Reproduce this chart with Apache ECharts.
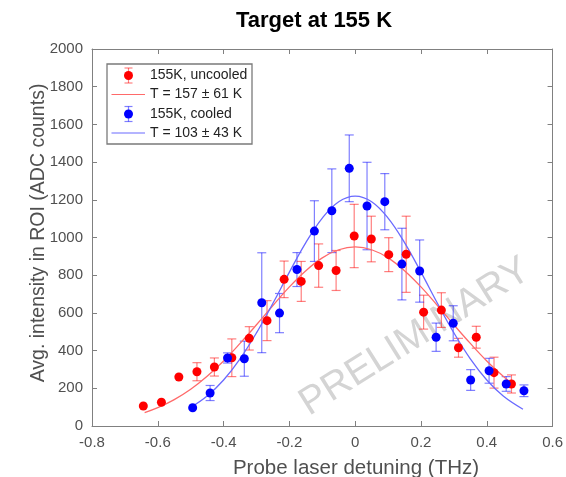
<!DOCTYPE html>
<html>
<head>
<meta charset="utf-8">
<script src="https://cdn.jsdelivr.net/npm/echarts@6/dist/echarts.min.js"></script>
<style>
html,body{margin:0;padding:0;background:#fff;}
#chart{width:566px;height:477px;}
</style>
</head>
<body>
<div id="chart"></div>
<script>
// ---- data ----
var titleText = 'Target at 155 K';
var xAxisName = 'Probe laser detuning (THz)';
var yAxisName = 'Avg. intensity in ROI (ADC counts)';
var watermark = 'PRELIMINARY';
var legendNames = ['155K, uncooled', 'T = 157 \u00b1 61 K', '155K, cooled', 'T = 103 \u00b1 43 K'];

var redX   = [-0.644,-0.589,-0.536,-0.481,-0.428,-0.375,-0.322,-0.268,-0.216,-0.164,-0.111,-0.058,-0.003,0.049,0.102,0.155,0.208,0.262,0.314,0.368,0.422,0.475];
var redY   = [106,126,260,288,313,362,465,559,778,767,851,825,1008,992,909,911,604,615,415,471,283,223];
var redErr = [0,0,0,48,48,100,62,106,97,106,115,106,168,121,90,202,90,92,50,58,82,48];

var blueX   = [-0.494,-0.441,-0.388,-0.337,-0.284,-0.230,-0.177,-0.124,-0.071,-0.018,0.036,0.090,0.142,0.196,0.246,0.298,0.351,0.407,0.459,0.513];
var blueY   = [97,175,361,357,654,599,830,1034,1142,1367,1167,1190,859,822,471,545,244,293,223,187];
var blueErr = [0,40,27,93,265,104,90,161,222,177,232,149,190,165,75,93,55,66,39,31];

var redFitX = [-0.64,-0.60,-0.55,-0.50,-0.45,-0.40,-0.35,-0.30,-0.25,-0.20,-0.15,-0.10,-0.05,0,0.05,0.10,0.15,0.20,0.25,0.30,0.35,0.40,0.45,0.48];
var redFitY = [71,97,140,195,264,345,438,537,639,738,824,892,935,950,935,892,824,738,639,537,438,345,264,221];

var blueFitX = [-0.50,-0.45,-0.40,-0.35,-0.30,-0.25,-0.20,-0.15,-0.10,-0.05,0,0.05,0.10,0.15,0.20,0.25,0.30,0.35,0.40,0.45,0.51];
var blueFitY = [99,159,244,356,494,651,816,973,1103,1190,1220,1190,1103,973,816,651,494,356,244,159,89];

var xMin = -0.8, xMax = 0.6, xStep = 0.2;
var yMin = 0, yMax = 2000, yStep = 200;

// ---- styles ----
var RED = '#ff0000', BLUE = '#0000ff';
var RED_ERR = 'rgba(255,0,0,0.5)', BLUE_ERR = 'rgba(0,0,255,0.5)';
var RED_FIT = '#ff6a6a', BLUE_FIT = '#6a6aff';
var AXIS_C = '#808080', LABEL_C = '#505050';
var FONT = 'Liberation Sans, Arial, Helvetica, sans-serif';

function zip2(a, b) { return a.map(function (v, i) { return [v, b[i]]; }); }
function errData(xs, ys, es) { return xs.map(function (v, i) { return [v, ys[i] - es[i], ys[i] + es[i]]; }); }
function plainNum(v) { return String(Math.round(v * 1000) / 1000); }

function errRenderer(color) {
  return function (params, api) {
    var x = api.value(0), lo = api.value(1), hi = api.value(2);
    if (hi - lo <= 0) return null;
    var p1 = api.coord([x, hi]), p2 = api.coord([x, lo]);
    var hw = 4.5, st = { stroke: color, lineWidth: 1.2 };
    return { type: 'group', children: [
      { type: 'line', shape: { x1: p1[0], y1: p1[1], x2: p2[0], y2: p2[1] }, style: st },
      { type: 'line', shape: { x1: p1[0] - hw, y1: p1[1], x2: p1[0] + hw, y2: p1[1] }, style: st },
      { type: 'line', shape: { x1: p2[0] - hw, y1: p2[1], x2: p2[0] + hw, y2: p2[1] }, style: st }
    ]};
  };
}

function axisCommon(showLabel) {
  return {
    axisLine: { show: true, onZero: false, lineStyle: { color: AXIS_C, width: 1 } },
    axisTick: { show: true, inside: true, length: 5, lineStyle: { color: AXIS_C } },
    axisLabel: { show: showLabel, color: LABEL_C, fontSize: 15, fontFamily: FONT, margin: 9, formatter: plainNum },
    splitLine: { show: false }
  };
}

var chart = echarts.init(document.getElementById('chart'));

// legend drawn as graphic (matlab-style box)
var LX = 107, LY = 64, LW = 145, LH = 80;
var rowY = [75.5, 94.5, 114, 133];
function legendMarker(cy, color, errColor) {
  var cx = 128.5, hw = 4, top = cy - 7.5, bot = cy + 7.5;
  var st = { stroke: errColor, lineWidth: 1.2 };
  return [
    { type: 'line', shape: { x1: cx, y1: top, x2: cx, y2: bot }, style: st },
    { type: 'line', shape: { x1: cx - hw, y1: top, x2: cx + hw, y2: top }, style: st },
    { type: 'line', shape: { x1: cx - hw, y1: bot, x2: cx + hw, y2: bot }, style: st },
    { type: 'circle', shape: { cx: cx, cy: cy, r: 4.5 }, style: { fill: color } }
  ];
}
function legendLine(cy, color) {
  return [{ type: 'line', shape: { x1: 111.5, y1: cy, x2: 145, y2: cy }, style: { stroke: color, lineWidth: 1.2 } }];
}
function legendText(cy, txt) {
  return { type: 'text', x: 150, y: cy, style: { text: txt, fill: '#222', font: '14px ' + FONT, textAlign: 'left', textVerticalAlign: 'middle' } };
}
var legendChildren = [
  { type: 'rect', shape: { x: LX, y: LY, width: LW, height: LH }, style: { fill: '#fff', stroke: '#7a7a7a', lineWidth: 1.3 } }
].concat(legendMarker(rowY[0], RED, RED_ERR), legendLine(rowY[1], RED_FIT),
         legendMarker(rowY[2], BLUE, BLUE_ERR), legendLine(rowY[3], BLUE_FIT),
         [legendText(rowY[0], legendNames[0]), legendText(rowY[1], legendNames[1]),
          legendText(rowY[2], legendNames[2]), legendText(rowY[3], legendNames[3])]);

var option = {
  animation: false,
  backgroundColor: '#fff',
  title: {
    text: titleText, left: 231, top: 5,
    textStyle: { fontSize: 22, fontWeight: 'bold', color: '#000', fontFamily: FONT }
  },
  grid: { left: 92, right: 11, top: 49, bottom: 51, containLabel: false },
  xAxis: [
    Object.assign({ type: 'value', min: xMin, max: xMax, interval: xStep, position: 'bottom' }, axisCommon(true)),
    Object.assign({ type: 'value', min: xMin, max: xMax, interval: xStep, position: 'top' }, axisCommon(false))
  ],
  yAxis: [
    Object.assign({ type: 'value', min: yMin, max: yMax, interval: yStep, position: 'left' }, axisCommon(true)),
    Object.assign({ type: 'value', min: yMin, max: yMax, interval: yStep, position: 'right' }, axisCommon(false))
  ],
  graphic: [
    { type: 'text', x: 415, y: 337, rotation: 0.56, z: 1,
      style: { text: watermark, fill: '#d4d4d4', font: '39px ' + FONT, textAlign: 'center', textVerticalAlign: 'middle' } },
    { type: 'text', x: 356, y: 468,
      style: { text: xAxisName, fill: LABEL_C, font: '20.5px ' + FONT, textAlign: 'center', textVerticalAlign: 'middle' } },
    { type: 'text', x: 39, y: 233, rotation: Math.PI / 2,
      style: { text: yAxisName, fill: LABEL_C, font: '19.5px ' + FONT, textAlign: 'center', textVerticalAlign: 'middle' } },
    { type: 'group', z: 100, children: legendChildren }
  ],
  series: [
    { name: 'redErr', type: 'custom', renderItem: errRenderer(RED_ERR), data: errData(redX, redY, redErr),
      encode: { x: 0, y: [1, 2] }, z: 3, silent: true },
    { name: 'blueErr', type: 'custom', renderItem: errRenderer(BLUE_ERR), data: errData(blueX, blueY, blueErr),
      encode: { x: 0, y: [1, 2] }, z: 3, silent: true },
    { name: legendNames[1], type: 'line', data: zip2(redFitX, redFitY), smooth: 0.4, showSymbol: false, symbol: 'none',
      lineStyle: { color: RED_FIT, width: 1.3 }, z: 4 },
    { name: legendNames[3], type: 'line', data: zip2(blueFitX, blueFitY), smooth: 0.4, showSymbol: false, symbol: 'none',
      lineStyle: { color: BLUE_FIT, width: 1.3 }, z: 4 },
    { name: legendNames[0], type: 'scatter', data: zip2(redX, redY), symbolSize: 9,
      itemStyle: { color: RED, opacity: 1 }, z: 5 },
    { name: legendNames[2], type: 'scatter', data: zip2(blueX, blueY), symbolSize: 9,
      itemStyle: { color: BLUE, opacity: 1 }, z: 5 }
  ]
};
chart.setOption(option);
</script>
</body>
</html>
